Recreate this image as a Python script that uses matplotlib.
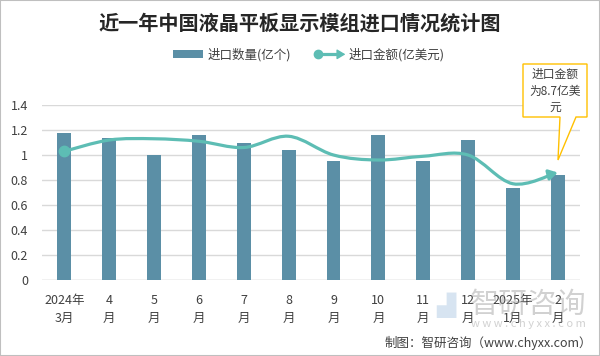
import matplotlib
matplotlib.use("Agg")
import matplotlib.pyplot as plt
import numpy as np
from matplotlib.path import Path
from matplotlib.patches import FancyArrowPatch, Rectangle, Polygon, Patch
from matplotlib.legend_handler import HandlerBase
from matplotlib.lines import Line2D

plt.rcParams['font.family'] = ['Noto Sans CJK SC', 'DejaVu Sans']

categories = ["2024年\n3月", "4\n月", "5\n月", "6\n月", "7\n月", "8\n月", "9\n月",
              "10\n月", "11\n月", "12\n月", "2025年\n1月", "2\n月"]
quantity = [1.18, 1.14, 1.00, 1.16, 1.10, 1.04, 0.95, 1.16, 0.95, 1.12, 0.74, 0.84]
amount = [1.03, 1.12, 1.13, 1.11, 1.06, 1.15, 1.00, 0.96, 0.99, 1.00, 0.77, 0.86]
yticks = [0, 0.2, 0.4, 0.6, 0.8, 1, 1.2, 1.4]
ytick_labels = ["0", "0.2", "0.4", "0.6", "0.8", "1", "1.2", "1.4"]

BAR_C = '#5B8FA6'
LINE_C = '#5DBDB4'
TXT_C = '#404040'

fig = plt.figure(figsize=(6.0, 3.56), dpi=100)
ax = fig.add_axes([0.07, 0.2135, 0.897, 0.4915])

x = np.arange(len(categories))
ax.bar(x, quantity, width=0.31, color=BAR_C, zorder=2)

# smooth curve (Catmull-Rom as cubic Bezier, like a spreadsheet smoothed line)
pts = np.column_stack([x, amount]).astype(float)
verts = [tuple(pts[0])]
codes = [Path.MOVETO]
n = len(pts)
for i in range(n - 1):
    p0 = pts[i - 1] if i > 0 else pts[i]
    p1 = pts[i]
    p2 = pts[i + 1]
    p3 = pts[i + 2] if i + 2 < n else pts[i + 1]
    c1 = p1 + (p2 - p0) / 6.0
    c2 = p2 - (p3 - p1) / 6.0
    verts += [tuple(c1), tuple(c2), tuple(p2)]
    codes += [Path.CURVE4] * 3
path = Path(verts, codes)
arr = FancyArrowPatch(path=path, arrowstyle='-|>,head_length=5,head_width=3',
                      color=LINE_C, lw=2.3, shrinkA=0, shrinkB=0, zorder=3,
                      mutation_scale=1)
ax.add_patch(arr)
ax.plot([x[0]], [amount[0]], 'o', color=LINE_C, ms=7.5, zorder=4)

ax.set_xlim(-0.5, len(categories) - 0.5)
ax.set_ylim(0, 1.4)
ax.set_yticks(yticks)
ax.set_yticklabels(ytick_labels)
ax.set_xticks(x)
ax.set_xticklabels(categories, linespacing=1.55)
ax.tick_params(axis='both', length=0, labelsize=9, colors=TXT_C)
ax.tick_params(axis='x', pad=10)
ax.tick_params(axis='y', pad=10)
ax.grid(axis='y', color='#D9D9D9', lw=1, zorder=0)
for s in ax.spines.values():
    s.set_visible(False)
ax.axhline(0, color='#D9D9D9', lw=1, zorder=1)

# title
fig.text(0.5, 1 - 23 / 356, "近一年中国液晶平板显示模组进口情况统计图",
         ha='center', va='center', fontsize=14.5, fontweight='bold', color='#262626')

# legend
class ArrowLineHandler(HandlerBase):
    def create_artists(self, legend, orig_handle, xdescent, ydescent, width, height, fontsize, trans):
        y = height / 2 - ydescent
        ln = Line2D([-xdescent + 3, -xdescent + width - 4], [y, y], color=LINE_C, lw=2.3, transform=trans)
        mk = Line2D([-xdescent + 3], [y], marker='o', ms=6, color=LINE_C, transform=trans)
        ar = FancyArrowPatch((-xdescent + width - 6, y), (-xdescent + width + 1, y),
                             arrowstyle='-|>,head_length=5,head_width=3', mutation_scale=1,
                             color=LINE_C, lw=1, transform=trans, shrinkA=0, shrinkB=0)
        return [ln, mk, ar]

h_bar = Patch(facecolor=BAR_C)
h_line = Line2D([], [], color=LINE_C)
fig.legend([h_bar, h_line], ["进口数量(亿个)", "进口金额(亿美元)"],
           loc='center', bbox_to_anchor=(0.515, 1 - 55 / 356), ncol=2, frameon=False,
           fontsize=9, handlelength=2.4, handleheight=0.6, columnspacing=1.8,
           handletextpad=0.4, labelcolor=TXT_C,
           handler_map={h_line: ArrowLineHandler()})

# callout annotation
W, H = 600.0, 356.0
poly_px = [(523, 64), (587, 64), (587, 117), (576, 117), (558, 160), (560, 117), (523, 117)]
poly = Polygon([(px / W, 1 - py / H) for px, py in poly_px], closed=True,
               facecolor='white', edgecolor='#FFC000', lw=1, transform=fig.transFigure,
               zorder=5)
fig.patches.append(poly)
fig.text(555 / W, 1 - 91 / H, "进口金额\n为8.7亿美\n元", ha='center', va='center',
         fontsize=8.5, color=TXT_C, linespacing=1.35, zorder=6)

# watermark
fig.text(528 / W, 1 - 305 / H, "智研咨询", ha='center', va='center', fontsize=21,
         color='#9A9A9A', alpha=0.45)
fig.text(528 / W, 1 - 324 / H, "w w w . c h y x x . c o m", ha='center', va='center',
         fontsize=8, color='#9A9A9A', alpha=0.45)
fig.text(446 / W, 1 - 305 / H, "▟", ha='center', va='center', fontsize=18,
         color='#8FB4D8', alpha=0.35, family=['DejaVu Sans'])

# footer
fig.text(592 / W, 1 - 343 / H, "制图：智研咨询（www.chyxx.com）", ha='right', va='center',
         fontsize=9, color=TXT_C)

# border
fig.patches.append(Rectangle((0, 0), 1, 1, transform=fig.transFigure, fill=False,
                             edgecolor='#BFBFBF', lw=1.5))

fig.savefig("out.png", dpi=100)
